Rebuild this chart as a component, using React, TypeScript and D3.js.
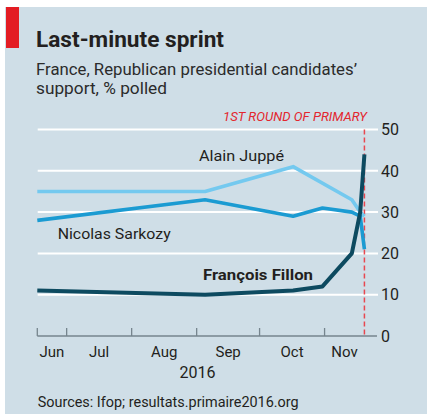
import React from "react";
import * as d3 from "d3";

// ---- data ----
const juppeDates = ["2016-06-17", "2016-09-05", "2016-10-17", "2016-11-14", "2016-11-18", "2016-11-20"];
const juppeValues = [35, 35, 41, 33, 30, 29];
const sarkozyDates = ["2016-06-17", "2016-09-05", "2016-10-17", "2016-10-31", "2016-11-14", "2016-11-18", "2016-11-20"];
const sarkozyValues = [28, 33, 29, 31, 30, 29, 21];
const fillonDates = ["2016-06-17", "2016-09-05", "2016-10-17", "2016-10-31", "2016-11-14", "2016-11-18", "2016-11-20"];
const fillonValues = [11, 10, 11, 12, 20, 30, 44];
const yTicks = [0, 10, 20, 30, 40, 50];
const monthTicks = ["2016-07-01", "2016-08-01", "2016-09-01", "2016-10-01", "2016-11-01"];
const monthLabels = ["Jun", "Jul", "Aug", "Sep", "Oct", "Nov"];
const domainStart = "2016-06-17";
const domainEnd = "2016-11-26";
const primaryDate = "2016-11-20";

const parse = (s: string) => {
  const [y, m, d] = s.split("-").map(Number);
  return new Date(y, m - 1, d);
};

const FONT = "Roboto, 'Open Sans', sans-serif";

export default function App() {
  const x = d3.scaleTime().domain([parse(domainStart), parse(domainEnd)]).range([37.3, 377]);
  const y = d3.scaleLinear().domain([0, 50]).range([336, 129.5]);

  const line = d3
    .line<[Date, number]>()
    .x((d) => x(d[0]))
    .y((d) => y(d[1]));

  const series = [
    { dates: juppeDates, values: juppeValues, color: "#74c9ef", w: 3.6 },
    { dates: sarkozyDates, values: sarkozyValues, color: "#1b9bd2", w: 3.6 },
    { dates: fillonDates, values: fillonValues, color: "#0d4a60", w: 4 },
  ];

  // month label positions: midpoints of visible month spans (ending at primary)
  const bounds = [parse(domainStart), ...monthTicks.map(parse), parse(primaryDate)];
  const monthMid = monthLabels.map((_, i) => (x(bounds[i]) + x(bounds[i + 1])) / 2);

  const xp = x(parse(primaryDate));
  const textColor = "#231f20";

  return (
    <svg width={427} height={414} style={{ position: "absolute", left: 0, top: 0 }} fontFamily={FONT}>
      <rect x={0} y={0} width={427} height={414} fill="#ffffff" />
      <rect x={5} y={7} width={422} height={407} fill="#cfdee7" />
      <rect x={6} y={7} width={13} height={41} fill="#e31c23" />

      <text x={36} y={46.7} fontSize={22} fontWeight="bold" fill={textColor} textLength={188} lengthAdjust="spacingAndGlyphs">
        Last-minute sprint
      </text>
      <text x={36} y={75} fontSize={16.5} fill="#2b2b2b" textLength={321} lengthAdjust="spacingAndGlyphs">
        France, Republican presidential candidates’
      </text>
      <text x={36} y={93.5} fontSize={16.5} fill="#2b2b2b" textLength={131} lengthAdjust="spacingAndGlyphs">
        support, % polled
      </text>

      {/* gridlines */}
      {yTicks.filter((v) => v > 0).map((v) => (
        <line key={v} x1={37.7} x2={378} y1={y(v)} y2={y(v)} stroke="#ffffff" strokeWidth={2} />
      ))}
      {yTicks.map((v) => (
        <text key={"yl" + v} x={381} y={y(v)} dy="0.36em" fontSize={16} fill={textColor}>
          {v}
        </text>
      ))}

      {/* x axis */}
      <line x1={37.3} x2={377} y1={y(0)} y2={y(0)} stroke="#76858e" strokeWidth={1.3} />
      {[domainStart, ...monthTicks].map((t) => (
        <line key={t} x1={x(parse(t))} x2={x(parse(t))} y1={y(0)} y2={y(0) - 8} stroke="#76858e" strokeWidth={1.3} />
      ))}
      {monthLabels.map((m, i) => (
        <text key={m} x={monthMid[i]} y={357} fontSize={15} textAnchor="middle" fill={textColor}>
          {m}
        </text>
      ))}
      <text x={197.5} y={378} fontSize={16} textAnchor="middle" fill={textColor}>
        2016
      </text>

      {/* primary marker */}
      <line x1={xp} x2={xp} y1={y(50)} y2={y(0)} stroke="#e8474f" strokeWidth={1.5} strokeDasharray="5,3" />
      <text x={367} y={120.7} fontSize={12} fontStyle="italic" textAnchor="end" fill="#e3262e" textLength={144} lengthAdjust="spacingAndGlyphs">
        1ST ROUND OF PRIMARY
      </text>

      {/* lines */}
      {series.map((s, i) => (
        <path
          key={i}
          d={line(s.dates.map((d, j) => [parse(d), s.values[j]] as [Date, number])) || ""}
          fill="none"
          stroke={s.color}
          strokeWidth={s.w}
          strokeLinejoin="round"
          strokeLinecap="butt"
        />
      ))}

      {/* labels */}
      <text x={199} y={161} fontSize={15.5} fill={textColor} textLength={85} lengthAdjust="spacingAndGlyphs">
        Alain Juppé
      </text>
      <text x={57.7} y={239} fontSize={15.5} fill={textColor} textLength={113} lengthAdjust="spacingAndGlyphs">
        Nicolas Sarkozy
      </text>
      <text x={203} y={280} fontSize={15.5} fontWeight="bold" fill={textColor} textLength={110} lengthAdjust="spacingAndGlyphs">
        François Fillon
      </text>

      <text x={37.7} y={406.5} fontSize={15} fill={textColor} textLength={261} lengthAdjust="spacingAndGlyphs">
        Sources: Ifop; resultats.primaire2016.org
      </text>
    </svg>
  );
}
